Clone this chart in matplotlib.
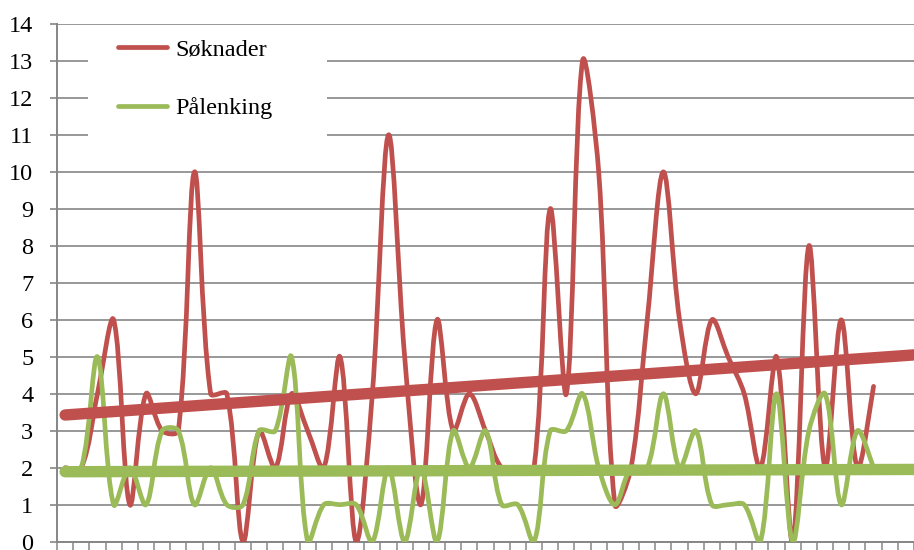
import numpy as np
import matplotlib
matplotlib.use("Agg")
import matplotlib.pyplot as plt
from matplotlib.path import Path
from matplotlib.patches import PathPatch, Rectangle
from matplotlib.lines import Line2D

# verdier lest av figuren (51 perioder)
soknader = [2, 2, 4, 6, 1, 4, 3, 3, 10, 4,
            4, 0, 3, 2, 4, 3, 2, 5, 0, 4,
            11, 5, 1, 6, 3, 4, 3, 2, 2, 2,
            9, 4, 13, 10, 1, 2, 6, 10, 6, 4,
            6, 5, 4, 2, 5, 0, 8, 2, 6, 2,
            4.2]
palenking = [2, 2, 5, 1, 2, 1, 3, 3, 1, 2,
             1, 1, 3, 3, 5, 0, 1, 1, 1, 0,
             2, 0, 2, 0, 3, 2, 3, 1, 1, 0,
             3, 3, 4, 2, 1, 2, 2, 4, 2, 3,
             1, 1, 1, 0, 4, 0, 3, 4, 1, 3,
             2]
labels = ["Søknader", "Pålenking"]
colors = ["#C0504D", "#9BBB59"]
y_ticks = list(range(0, 15))

plt.rcParams['font.family'] = ['Liberation Serif', 'DejaVu Serif']
grid_col = "#868686"


def smooth_path(y, ry=2.27):
    # glatting som i excel: bezier der armene skaleres med segmentlengden
    x = np.arange(len(y), dtype=float)
    p = np.column_stack([x, np.asarray(y, dtype=float)])
    q = p * [1.0, ry]
    n = len(p)
    fwd = np.zeros_like(p)
    bwd = np.zeros_like(p)
    for i in range(n):
        if i == 0 or i == n - 1:
            t = p[min(i + 1, n - 1)] - p[max(i - 1, 0)]
            fwd[i] = bwd[i] = t / 6.0
            continue
        t = p[i + 1] - p[i - 1]
        lb = np.hypot(*(q[i] - q[i - 1]))
        lf = np.hypot(*(q[i + 1] - q[i]))
        fwd[i] = t * lf / (lb + lf) / 3.0
        bwd[i] = t * lb / (lb + lf) / 3.0
    verts = [p[0]]
    codes = [Path.MOVETO]
    for i in range(n - 1):
        verts += [p[i] + fwd[i], p[i + 1] - bwd[i + 1], p[i + 1]]
        codes += [Path.CURVE4] * 3
    return Path(verts, codes)


fig = plt.figure(figsize=(9.14, 5.5), dpi=100)
ax = fig.add_axes([0.0624, 0.0151, 0.9376, 0.9413])

for ser, col in zip([soknader, palenking], colors):
    ax.add_patch(PathPatch(smooth_path(ser), fill=False, edgecolor=col,
                           lw=3.4, capstyle='round', joinstyle='round', zorder=3))

# lineære trendlinjer
xt = np.array([0, 60])
for ser, col in zip([soknader, palenking], colors):
    k, m = np.polyfit(np.arange(len(ser)), ser, 1)
    ax.plot(xt, k * xt + m, color=col, lw=8.2, solid_capstyle='round', zorder=4)

ax.set_xlim(-0.5, 51.95)
ax.set_ylim(0, 14)
ax.set_yticks(y_ticks)
ax.set_xticks(np.arange(-0.5, 53, 1))
ax.set_xticklabels([])
ax.grid(axis='y', color=grid_col, lw=1.2)
ax.set_axisbelow(True)
ax.tick_params(axis='y', length=5, width=1.2, color=grid_col, pad=12, labelsize=17.5)
ax.tick_params(axis='x', length=7, width=1.1, color=grid_col, direction='out')
for s in ['top', 'right']:
    ax.spines[s].set_visible(False)
for s in ['left', 'bottom']:
    ax.spines[s].set_color(grid_col)
    ax.spines[s].set_linewidth(1.4)

# hvit bakgrunn bak forklaringen
ax.add_patch(Rectangle((0.0362, 0.757), 0.279, 0.231, transform=ax.transAxes,
                       facecolor='white', edgecolor='none', zorder=1))
handles = [Line2D([], [], color=c, lw=3.4, solid_capstyle='round') for c in colors]
ax.legend(handles, labels, loc='upper left', bbox_to_anchor=(0.06, 0.99),
          frameon=False, fontsize=17.5, handlelength=2.0, handletextpad=0.35,
          labelspacing=1.5, borderaxespad=0)

fig.savefig("out.png", dpi=100)
